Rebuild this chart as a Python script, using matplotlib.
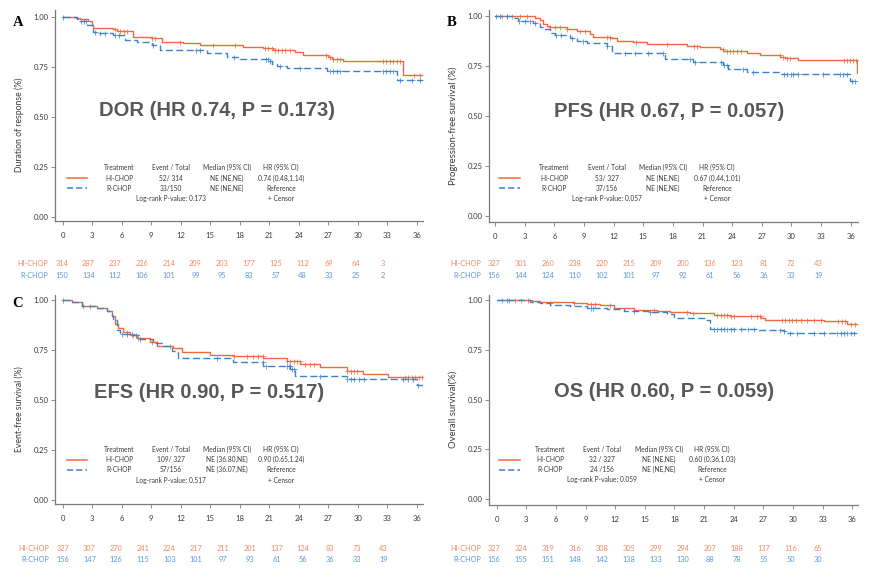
import numpy as np
import matplotlib
matplotlib.use("Agg")
import matplotlib.pyplot as plt
from matplotlib.ticker import FormatStrFormatter

# ---------------- data ----------------
months = np.arange(0, 37, 3)
arms = ["HI-CHOP", "R-CHOP"]

# A: duration of response
dor_hi_t = [0, 1.4, 1.76, 2.61, 2.95, 3.12, 5.15, 5.49, 7.19, 9.05, 10.07, 12.27, 13.97, 18.37,
            20.41, 21.42, 23.63, 24.47, 27.02, 27.36, 28.54, 34.64, 36.65]
dor_hi_s = [1.0, 0.995, 0.99, 0.98, 0.96, 0.945, 0.94, 0.93, 0.90, 0.895, 0.875, 0.87, 0.86, 0.85,
            0.843, 0.835, 0.825, 0.81, 0.80, 0.79, 0.78, 0.71, 0.71]
dor_hi_cens = [5.3, 5.8, 6.2, 6.5, 9.05, 9.4, 11.9, 15.3, 17.5, 20.6, 20.9, 21.25, 21.6, 21.9, 22.3,
               22.6, 23.1, 26.8, 27.2, 27.5, 27.9, 28.2, 32.6, 32.9, 33.3, 33.6, 34.0, 34.3, 35.7, 36.3]
dor_r_t = [0, 1.42, 1.76, 2.44, 3.12, 3.46, 5.15, 6.34, 7.53, 9.05, 9.9, 14.64, 16.68, 18.03,
           20.92, 21.25, 21.76, 22.78, 26.85, 33.97, 36.65]
dor_r_s = [1.0, 0.99, 0.98, 0.96, 0.925, 0.92, 0.91, 0.885, 0.875, 0.86, 0.835, 0.82, 0.80, 0.79,
           0.78, 0.765, 0.755, 0.745, 0.73, 0.685, 0.685]
dor_r_cens = [0.05, 1.9, 2.2, 2.4, 3.3, 3.8, 4.3, 5.3, 5.7, 9.2, 13.6, 14.0, 17.4, 20.7, 20.9, 21.1,
              22.1, 24.1, 27.2, 27.5, 27.9, 28.2, 32.6, 32.9, 33.3, 33.6, 34.3, 35.5, 36.3]
dor_risk_hi = [314, 287, 237, 226, 214, 209, 203, 177, 125, 112, 69, 64, 3]
dor_risk_r = [150, 134, 112, 106, 101, 99, 95, 83, 57, 48, 33, 25, 2]
dor_table = [["52/ 314", "NE (NE,NE)", "0.74 (0.48,1.14)"],
             ["33/150", "NE (NE,NE)", "Reference"]]
dor_p = "0.173"

# B: progression-free survival
pfs_hi_t = [0, 4.05, 4.55, 4.89, 5.23, 5.57, 7.25, 8.27, 9.62, 9.95, 11.64, 12.31, 14.0, 15.35,
            19.4, 20.75, 22.77, 23.11, 25.47, 26.82, 28.85, 29.35, 30.7, 36.6]
pfs_hi_s = [1.0, 0.99, 0.98, 0.96, 0.95, 0.945, 0.935, 0.925, 0.91, 0.895, 0.89, 0.875, 0.87, 0.86,
            0.85, 0.845, 0.835, 0.825, 0.815, 0.805, 0.795, 0.79, 0.78, 0.715]
pfs_hi_cens = [0.7, 1.2, 1.7, 2.5, 3.2, 5.6, 6.1, 6.6, 7.3, 8.6, 9.1, 11.3, 11.6, 14.3, 17.4, 20.1,
               20.4, 23.1, 23.5, 23.8, 24.1, 24.5, 24.9, 28.8, 29.1, 29.5, 29.8, 35.3, 35.6, 35.9,
               36.2, 36.5]
pfs_r_t = [0, 1.86, 2.36, 3.88, 4.55, 4.89, 5.57, 6.07, 7.59, 8.27, 9.28, 11.3, 11.81, 17.21,
           20.07, 23.11, 23.62, 25.47, 28.85, 35.93, 36.5]
pfs_r_s = [1.0, 0.99, 0.975, 0.965, 0.945, 0.935, 0.915, 0.905, 0.89, 0.875, 0.865, 0.85, 0.813,
           0.785, 0.77, 0.755, 0.735, 0.72, 0.71, 0.672, 0.672]
pfs_r_cens = [0.05, 0.5, 1.2, 2.4, 3.0, 3.5, 4.0, 6.2, 6.7, 7.8, 8.9, 11.3, 13.2, 14.2, 15.5, 17.0,
              19.7, 20.2, 22.9, 23.2, 23.5, 25.1, 26.1, 29.2, 29.5, 29.9, 30.2, 30.7, 33.2, 34.9,
              35.2, 35.6, 36.1, 36.4]
pfs_risk_hi = [327, 301, 260, 238, 220, 215, 209, 200, 136, 123, 81, 72, 43]
pfs_risk_r = [156, 144, 124, 110, 102, 101, 97, 92, 61, 56, 36, 33, 19]
pfs_table = [["53/ 327", "NE (NE,NE)", "0.67 (0.44,1.01)"],
             ["37/156", "NE (NE,NE)", "Reference"]]
pfs_p = "0.057"

# C: event-free survival
efs_hi_t = [0, 0.92, 1.93, 3.46, 4.47, 4.98, 5.32, 5.66, 6.17, 6.85, 7.53, 8.88, 9.56, 11.25,
            12.1, 14.98, 17.36, 20.41, 22.78, 24.14, 26.17, 28.88, 30.58, 33.12, 36.65]
efs_hi_s = [1.0, 0.99, 0.97, 0.96, 0.945, 0.92, 0.88, 0.86, 0.84, 0.825, 0.81, 0.79, 0.77, 0.76,
            0.742, 0.725, 0.72, 0.708, 0.693, 0.68, 0.663, 0.647, 0.63, 0.617, 0.617]
efs_hi_cens = [2.1, 2.8, 6.5, 7.2, 7.7, 9.05, 10.9, 17.4, 18.7, 19.4, 19.9, 20.4, 22.8, 23.1, 23.5,
               23.8, 24.1, 24.6, 25.1, 25.6, 28.9, 29.3, 29.6, 29.9, 34.8, 35.1, 35.5, 35.8, 36.2,
               36.5]
efs_r_t = [0, 0.92, 1.93, 3.46, 4.47, 4.98, 5.15, 5.49, 5.83, 7.19, 7.86, 9.22, 10.24, 11.08,
           11.76, 17.36, 20.41, 23.12, 23.63, 28.88, 36.0, 36.65]
efs_r_s = [1.0, 0.99, 0.97, 0.96, 0.945, 0.92, 0.90, 0.85, 0.83, 0.825, 0.805, 0.785, 0.768, 0.747,
           0.712, 0.69, 0.67, 0.655, 0.622, 0.607, 0.575, 0.575]
efs_r_cens = [0.07, 6.0, 6.5, 7.0, 7.5, 7.9, 9.6, 15.7, 20.4, 20.7, 22.8, 23.0, 23.1, 23.3, 23.5,
              26.2, 28.9, 29.3, 29.6, 30.1, 30.6, 34.6, 35.1, 35.6, 36.1]
efs_risk_hi = [327, 307, 270, 241, 224, 217, 211, 201, 137, 124, 83, 73, 43]
efs_risk_r = [156, 147, 126, 115, 103, 101, 97, 93, 61, 56, 36, 33, 19]
efs_table = [["109/ 327", "NE (36.80,NE)", "0.90 (0.65,1.24)"],
             ["57/156", "NE (36.07,NE)", "Reference"]]
efs_p = "0.517"

# D: overall survival
os_hi_t = [0, 3.55, 4.39, 7.78, 9.13, 10.48, 11.83, 13.86, 16.23, 17.58, 19.61, 21.97, 23.66,
           26.71, 27.21, 33.13, 35.5, 36.51]
os_hi_s = [1.0, 0.995, 0.99, 0.985, 0.98, 0.975, 0.96, 0.95, 0.945, 0.938, 0.933, 0.925, 0.92,
           0.908, 0.90, 0.892, 0.878, 0.878]
os_hi_cens = [0.5, 1.2, 1.9, 2.5, 3.2, 7.8, 9.5, 10.0, 11.5, 15.9, 19.3, 19.9, 22.3, 22.7, 23.0,
              23.3, 23.7, 24.0, 25.7, 26.4, 26.7, 28.9, 29.2, 29.6, 29.9, 30.3, 30.8, 31.4, 32.1,
              32.8, 34.6, 35.0, 35.3, 35.9, 36.3]
os_r_t = [0, 3.38, 4.39, 5.41, 7.44, 9.13, 11.16, 12.85, 15.55, 17.24, 17.92, 20.96, 21.64,
          26.37, 29.07, 29.41, 36.51]
os_r_s = [1.0, 0.99, 0.985, 0.975, 0.97, 0.96, 0.955, 0.945, 0.94, 0.93, 0.91, 0.90, 0.855,
          0.848, 0.845, 0.832, 0.832]
os_r_cens = [1.0, 5.4, 9.5, 9.8, 13.9, 15.55, 22.0, 22.3, 22.7, 23.0, 23.3, 23.7, 24.0, 24.7, 25.4,
             26.0, 28.7, 29.1, 29.7, 30.4, 32.1, 33.1, 34.5, 34.9, 35.2, 35.5, 35.9, 36.2]
os_risk_hi = [327, 324, 319, 316, 308, 305, 299, 294, 207, 188, 137, 116, 65]
os_risk_r = [156, 155, 151, 148, 142, 138, 133, 130, 88, 78, 55, 50, 30]
os_table = [["32 / 327", "NE (NE,NE)", "0.60 (0.36,1.03)"],
            ["24 /156", "NE (NE,NE)", "Reference"]]
os_p = "0.059"

# ---------------- styling ----------------
ORANGE = "#EF6B3F"
BLUE = "#3B82CC"
ORANGE_TXT = "#F08A62"
BLUE_TXT = "#5E98D6"
GREY = "#7a7a7a"
TXT = "#3a3a3a"
SMALL = "Lato"

W, H = 873, 586
fig = plt.figure(figsize=(W / 100, H / 100), dpi=100)


def rect(l, t, r, b):
    # pixel box -> figure fraction
    return [l / W, 1 - b / H, (r - l) / W, (b - t) / H]


panels = [
    dict(letter="A", letter_xy=(18, 22.5), box=(55, 10, 423, 221), ylim=(-0.0215, 1.0335),
         xlim=(-0.78, 36.64), ylabel="Duration of response (%)", lab_size=6.2,
         hi=(dor_hi_t, dor_hi_s, dor_hi_cens), r=(dor_r_t, dor_r_s, dor_r_cens),
         risk=(dor_risk_hi, dor_risk_r), risk_box=(61.7, 263.3, 382.7, 275.7),
         table=dor_table, p=dor_p, big="DOR (HR 0.74, P = 0.173)", big_xy=(15.65, 0.53),
         cols=[5.73, 11.0, 16.68, 22.2], leg_y=0.245, line_x=(0.4, 2.5)),
    dict(letter="B", letter_xy=(452, 23), box=(489, 10, 858, 221.7), ylim=(-0.028, 1.028),
         xlim=(-0.61, 36.73), ylabel="Progression-free survival (%)", lab_size=6.8,
         hi=(pfs_hi_t, pfs_hi_s, pfs_hi_cens), r=(pfs_r_t, pfs_r_s, pfs_r_cens),
         risk=(pfs_risk_hi, pfs_risk_r), risk_box=(494.3, 263.3, 818.3, 275.3),
         table=pfs_table, p=pfs_p, big="PFS (HR 0.67, P = 0.057)", big_xy=(17.6, 0.52),
         cols=[5.97, 11.3, 16.97, 22.44], leg_y=0.241, line_x=(0.4, 2.5)),
    dict(letter="C", letter_xy=(18, 303.5), box=(55, 295, 423, 504), ylim=(-0.02, 1.025),
         xlim=(-0.78, 36.64), ylabel="Event-free survival (%)", lab_size=6.2,
         hi=(efs_hi_t, efs_hi_s, efs_hi_cens), r=(efs_r_t, efs_r_s, efs_r_cens),
         risk=(efs_risk_hi, efs_risk_r), risk_box=(62.7, 548.3, 383.3, 560),
         table=efs_table, p=efs_p, big="EFS (HR 0.90, P = 0.517)", big_xy=(14.9, 0.535),
         cols=[5.73, 11.0, 16.68, 22.2], leg_y=0.2535, line_x=(0.4, 2.5)),
    dict(letter=None, letter_xy=None, box=(489, 295, 858, 505), ylim=(-0.0286, 1.0236),
         xlim=(-0.78, 36.58), ylabel="Overall survival(%)", lab_size=6.8,
         hi=(os_hi_t, os_hi_s, os_hi_cens), r=(os_r_t, os_r_s, os_r_cens),
         risk=(os_risk_hi, os_risk_r), risk_box=(494.3, 548.3, 817.7, 560),
         table=os_table, p=os_p, big="OS (HR 0.60, P = 0.059)", big_xy=(16.97, 0.54),
         cols=[5.4, 10.7, 16.39, 21.8], leg_y=0.251, line_x=(0.24, 2.36)),
]

for cfg in panels:
    ax = fig.add_axes(rect(*cfg["box"]))
    ax.set_xlim(*cfg["xlim"])
    ax.set_ylim(*cfg["ylim"])

    # KM curves + censor marks
    for (t, s, cens), col, ls in [(cfg["hi"], ORANGE, "-"), (cfg["r"], BLUE, (0, (5, 2.5)))]:
        t = np.array(t)
        s = np.array(s)
        ax.step(t, s, where="post", color=col, lw=1.0, ls=ls)
        idx = np.searchsorted(t, cens, side="right") - 1
        ax.plot(cens, s[idx], ls="none", marker="+", ms=3.6, mew=0.7, color=col, alpha=0.75)

    for sp in ["top", "right"]:
        ax.spines[sp].set_visible(False)
    for sp in ["left", "bottom"]:
        ax.spines[sp].set_color(GREY)
        ax.spines[sp].set_linewidth(0.9)
    ax.set_xticks(months)
    ax.set_yticks([0, 0.25, 0.5, 0.75, 1.0])
    ax.yaxis.set_major_formatter(FormatStrFormatter("%.2f"))
    ax.tick_params(axis="x", length=3, width=0.6, color=GREY, labelsize=5.5, labelcolor=TXT, pad=5)
    ax.tick_params(axis="y", length=3, width=0.6, color=GREY, labelsize=5.5, labelcolor=TXT, pad=1.5)
    for lab in ax.get_xticklabels() + ax.get_yticklabels():
        lab.set_family(SMALL)
    ax.set_ylabel(cfg["ylabel"], fontsize=cfg["lab_size"], family=SMALL, color=TXT)
    ax.yaxis.set_label_coords(-0.085, 0.455)

    # big summary label
    ax.text(*cfg["big_xy"], cfg["big"], fontsize=14.5, fontweight="bold", color="#585858",
            family="Liberation Sans", ha="center", va="center")

    # legend table
    c = cfg["cols"]
    y0 = cfg["leg_y"]
    rows = [y0, y0 - 0.052, y0 - 0.102, y0 - 0.154]
    kw = dict(fontsize=4.8, family=SMALL, color=TXT, ha="center", va="center")
    for x, head in zip(c, ["Treatment", "Event / Total", "Median (95% CI)", "HR (95% CI)"]):
        ax.text(x, rows[0], head, **kw)
    for i, (arm, col, ls) in enumerate([(arms[0], ORANGE, "-"), (arms[1], BLUE, (0, (4, 2)))]):
        ax.plot(cfg["line_x"], [rows[i + 1]] * 2, color=col, lw=1.1, ls=ls)
        ax.text(c[0], rows[i + 1], arm, **kw)
        for x, val in zip(c[1:], cfg["table"][i]):
            ax.text(x, rows[i + 1], val, **kw)
    ax.text(c[1], rows[3], "Log-rank P-value: " + cfg["p"], **kw)
    ax.text(c[3], rows[3], "+ Censor", **kw)

    # panel letter
    if cfg["letter"]:
        lx, ly = cfg["letter_xy"]
        fig.text(lx / W, 1 - ly / H, cfg["letter"], fontsize=10.5, fontweight="bold",
                 family="Liberation Serif", ha="center", va="center")

    # numbers at risk
    rax = fig.add_axes(rect(*cfg["risk_box"]))
    rax.set_xlim(0, 12)
    rax.set_ylim(0, 1)
    rax.axis("off")
    for yv, name, vals, col in [(1, arms[0], cfg["risk"][0], ORANGE_TXT),
                                (0, arms[1], cfg["risk"][1], BLUE_TXT)]:
        rax.text(-0.5, yv, name, fontsize=5.2, family=SMALL, color=col, ha="right", va="center")
        for i, v in enumerate(vals):
            rax.text(i, yv, str(v), fontsize=5.3, family=SMALL, color=col, ha="center", va="center")

fig.savefig("out.png", dpi=100)
